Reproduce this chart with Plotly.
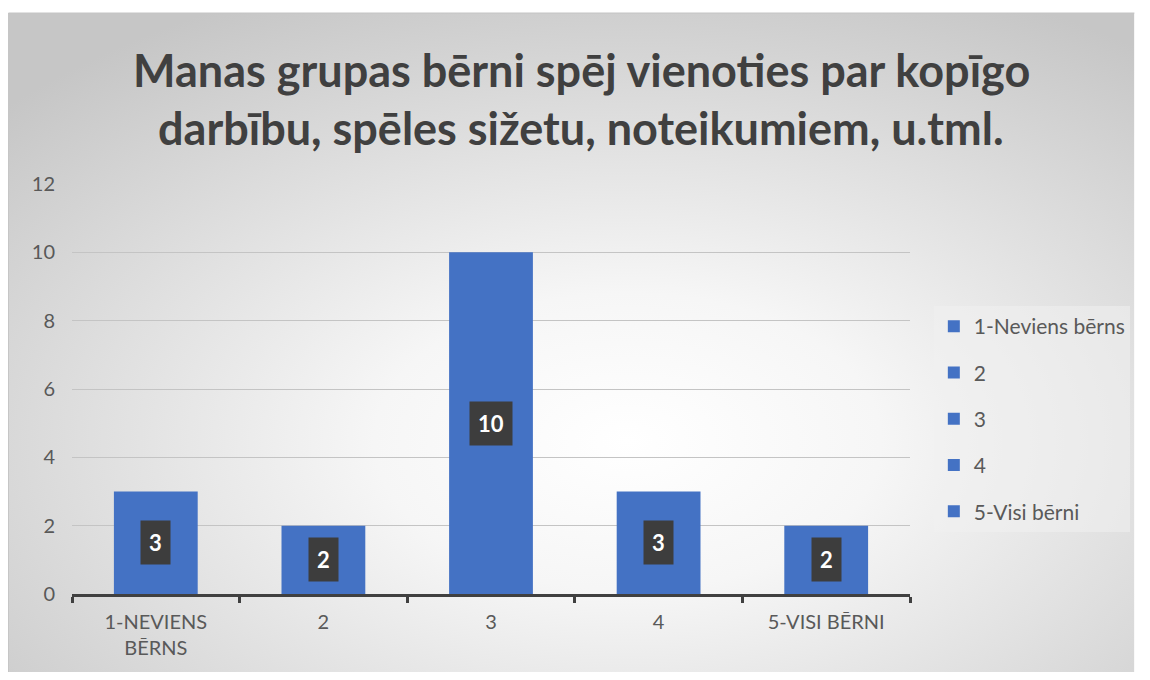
import base64
import plotly.graph_objects as go

# ---- data ----
categories = ["1-Neviens bērns", "2", "3", "4", "5-Visi bērni"]
tick_labels = ["1-NEVIENS<br>BĒRNS", "2", "3", "4", "5-VISI BĒRNI"]
values = [3, 2, 10, 3, 2]
y_ticks = [0, 2, 4, 6, 8, 10, 12]
title_lines = ["Manas grupas bērni spēj vienoties par kopīgo",
               "darbību, spēles sižetu, noteikumiem, u.tml."]

# ---- layout geometry (figure pixels; page has an 8px body margin) ----
OFF = 8
W, H = 1134, 664
L, T = 72 - OFF, 184 - OFF
R = W - (916 - OFF)
B = H - (594 - OFF)
PW, PH = W - L - R, H - T - B


def px(x):  # page pixel x -> paper
    return (x - OFF - L) / PW


def py(y):  # page pixel y -> paper
    return (H - B - (y - OFF)) / PH


BLUE = "#4472C4"
FONT = "Lato, 'Open Sans', sans-serif"
GREY_TXT = "#595959"

fig = go.Figure()
for i, (cat, lab, v) in enumerate(zip(categories, tick_labels, values)):
    fig.add_trace(go.Bar(
        x=[lab], y=[v], name=cat, marker=dict(color=BLUE, line=dict(width=0)),
        legendgroup=cat, hoverinfo="skip",
    ))
    fig.add_annotation(
        x=i, y=v / 2, xref="x", yref="y", text=f"<b>{v}</b>", showarrow=False,
        font=dict(family=FONT, size=22, color="white"),
        bgcolor="#3d3d3d", borderpad=8,
    )

# background radial gradient as SVG
svg = (
    '<svg xmlns="http://www.w3.org/2000/svg" width="1142" height="667" preserveAspectRatio="none">'
    '<defs><radialGradient id="g" cx="0.55" cy="0.65" r="0.75" fx="0.55" fy="0.65">'
    '<stop offset="0" stop-color="#ffffff"/>'
    '<stop offset="0.3" stop-color="#f6f6f6"/>'
    '<stop offset="1" stop-color="#c6c6c6"/>'
    '</radialGradient></defs>'
    '<rect x="0" y="0" width="1142" height="667" fill="url(#g)"/></svg>'
)
src = "data:image/svg+xml;base64," + base64.b64encode(svg.encode()).decode()

fig.add_layout_image(
    source=src, xref="paper", yref="paper", x=px(8), y=py(13),
    sizex=(W + OFF - 8) / PW, sizey=(H + OFF - 13) / PH, sizing="stretch",
    xanchor="left", yanchor="top", layer="below",
)
fig.add_shape(type="line", xref="paper", yref="paper", x0=px(8), x1=px(W + OFF), y0=py(13), y1=py(13),
              line=dict(color="#c4c4c4", width=1))
fig.add_shape(type="line", xref="paper", yref="paper", x0=px(8), x1=px(8), y0=py(13), y1=py(H + OFF),
              line=dict(color="#c4c4c4", width=1))

# title lines
for i, line in enumerate(title_lines):
    fig.add_annotation(
        x=px(585), y=py(70 + i * 58), xref="paper", yref="paper", text=f"<b>{line}</b>",
        showarrow=False, xanchor="center", yanchor="middle",
        font=dict(family=FONT, size=45, color="#404040"),
    )

fig.update_layout(
    width=W, height=H, margin=dict(l=L, r=R, t=T, b=B),
    paper_bgcolor="white", plot_bgcolor="rgba(0,0,0,0)",
    barmode="overlay", bargap=0.5,
    font=dict(family=FONT, color=GREY_TXT, size=20),
    showlegend=True,
    legend=dict(
        x=px(940), y=py(306), xanchor="left", yanchor="top",
        bgcolor="rgba(240,240,240,0.55)", borderwidth=0,
        font=dict(family=FONT, size=21, color=GREY_TXT),
        tracegroupgap=16, traceorder="grouped",
    ),
)
fig.update_xaxes(
    showgrid=False, showline=True, linecolor="#404040", linewidth=2.5,
    ticks="outside", tickson="boundaries", ticklen=6, tickwidth=2.5, tickcolor="#404040",
    tickfont=dict(family=FONT, size=20, color=GREY_TXT), ticklabelstandoff=8,
    categoryorder="array", categoryarray=tick_labels, fixedrange=True,
)
fig.update_yaxes(
    range=[0, 12], tickvals=y_ticks, showgrid=True, gridcolor="#c4c4c4", gridwidth=1,
    zeroline=False, showline=False, ticks="",
    tickfont=dict(family=FONT, size=20, color=GREY_TXT), ticklabelstandoff=16,
    fixedrange=True,
)

fig.write_html("out.html")
